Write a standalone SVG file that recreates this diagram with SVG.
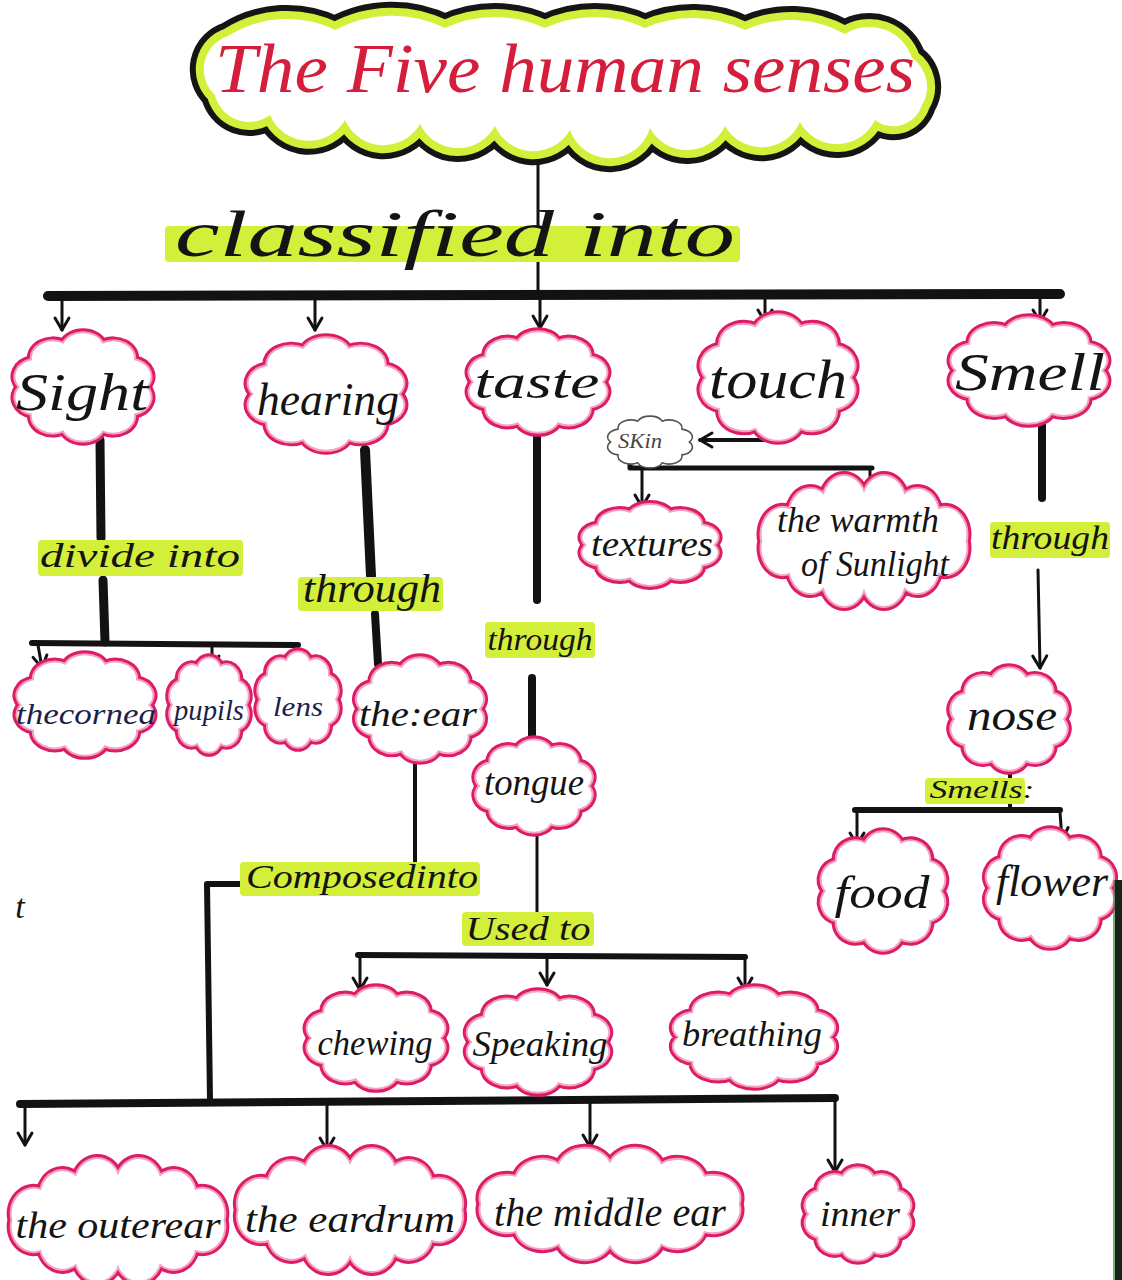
<svg xmlns="http://www.w3.org/2000/svg" xmlns:xlink="http://www.w3.org/1999/xlink" width="1122" height="1280" viewBox="0 0 1122 1280">
  <style>
    .txt { font-family: "Liberation Serif", "DejaVu Serif", serif; font-style: italic; fill: #141414; text-anchor: middle; }
    .navy { fill: #1c1f4a; }
    .hl { fill: #d4ef3a; }
    .bar { stroke: #121212; fill: none; stroke-linecap: round; stroke-linejoin: round; }
    .arrow { stroke: #121212; stroke-width: 3; fill: none; stroke-linecap: round; marker-end: url(#vhead); }
    .pink-out { fill: none; stroke: #de1c66; stroke-width: 10; }
    .pink-in { fill: none; stroke: #f3a2c2; stroke-width: 4; }
    .white-fill { fill: #ffffff; stroke: none; }
  </style>
  <defs>
    <!-- open V arrowhead, tip at the line end -->
    <marker id="vhead" viewBox="-14 -10 18 20" markerWidth="18" markerHeight="20" refX="0" refY="0" markerUnits="userSpaceOnUse" orient="auto" overflow="visible">
      <path d="M-12,-7 L0,0 L-12,7" fill="none" stroke="#121212" stroke-width="3" stroke-linecap="round" stroke-linejoin="round"/>
    </marker>
    <!-- scalloped cloud in a 100x100 box -->
    <path id="cloudShape" vector-effect="non-scaling-stroke" d="M37,9.9 A14,15.5 0 0 1 63,9.9 A14,15.5 0 0 1 84,25.2 A14,15.5 0 0 1 92,50 A14,15.5 0 0 1 84,74.8 A14,15.5 0 0 1 63,90.1 A14,15.5 0 0 1 37,90.1 A14,15.5 0 0 1 16,74.8 A14,15.5 0 0 1 8,50 A14,15.5 0 0 1 16,25.2 A14,15.5 0 0 1 37,9.9 Z"/>
    <!-- wider cloud in a 200x100 box -->
    <path id="cloudWideShape" vector-effect="non-scaling-stroke" d="M30,26 A20,20 0 0 1 62,15 A20,20 0 0 1 100,14 A20,20 0 0 1 138,15 A20,20 0 0 1 170,26 A20,20 0 0 1 196,50 A20,20 0 0 1 170,74 A20,20 0 0 1 138,85 A20,20 0 0 1 100,86 A20,20 0 0 1 62,85 A20,20 0 0 1 30,74 A20,20 0 0 1 4,50 A20,20 0 0 1 30,26 Z"/>
    <g id="pinkCloud">
      <use xlink:href="#cloudShape" class="pink-out"/>
      <use xlink:href="#cloudShape" class="pink-in"/>
      <use xlink:href="#cloudShape" class="white-fill"/>
    </g>
    <g id="pinkCloudWide">
      <use xlink:href="#cloudWideShape" class="pink-out"/>
      <use xlink:href="#cloudWideShape" class="pink-in"/>
      <use xlink:href="#cloudWideShape" class="white-fill"/>
    </g>
    <path id="titleShape" d="M228,36 A110,110 0 0 1 335,30 A120,120 0 0 1 445,28 A120,120 0 0 1 545,28 A120,120 0 0 1 645,28 A120,120 0 0 1 745,30 A110,110 0 0 1 845,34 A45,45 0 0 1 912,58 A35,35 0 0 1 922,105 A30,30 0 0 1 875,120 A42,42 0 0 1 800,122 A42,42 0 0 1 725,126 A42,42 0 0 1 650,128 A42,42 0 0 1 570,130 A42,42 0 0 1 495,126 A42,42 0 0 1 420,124 A42,42 0 0 1 345,120 A42,42 0 0 1 270,115 A35,35 0 0 1 215,95 A35,35 0 0 1 228,36 Z"/>
  </defs>

  <rect width="1122" height="1280" fill="#ffffff"/>

  <!-- connectors -->
  <g id="connectors">
    <!-- title to main bar -->
    <line class="bar" x1="538" y1="140" x2="538" y2="295" stroke-width="3"/>
    <line class="bar" x1="48" y1="296" x2="1060" y2="294" stroke-width="10"/>
    <line class="arrow" x1="62" y1="298" x2="62" y2="330"/>
    <line class="arrow" x1="315" y1="298" x2="315" y2="330"/>
    <line class="arrow" x1="540" y1="298" x2="540" y2="328"/>
    <line class="arrow" x1="765" y1="298" x2="765" y2="322"/>
    <line class="arrow" x1="1040" y1="298" x2="1040" y2="322"/>

    <!-- sight -->
    <line class="bar" x1="100" y1="440" x2="101" y2="538" stroke-width="9"/>
    <line class="bar" x1="103" y1="580" x2="105" y2="642" stroke-width="9"/>
    <line class="bar" x1="32" y1="643" x2="298" y2="645" stroke-width="6"/>
    <line class="arrow" x1="38" y1="645" x2="42" y2="668" stroke-width="4"/>
    <line class="arrow" x1="212" y1="646" x2="212" y2="668" stroke-width="4"/>
    <line class="arrow" x1="295" y1="646" x2="298" y2="668" stroke-width="4"/>

    <!-- hearing -->
    <line class="bar" x1="365" y1="450" x2="371" y2="576" stroke-width="10"/>
    <line class="bar" x1="375" y1="614" x2="378" y2="664" stroke-width="8"/>
    <line class="bar" x1="415" y1="758" x2="415" y2="864" stroke-width="4"/>
    <polyline class="bar" points="244,884 207,884 210,1100" stroke-width="6"/>
    <line class="bar" x1="20" y1="1104" x2="835" y2="1098" stroke-width="8"/>
    <line class="arrow" x1="25" y1="1104" x2="25" y2="1145"/>
    <line class="arrow" x1="327" y1="1101" x2="327" y2="1150"/>
    <line class="arrow" x1="590" y1="1099" x2="590" y2="1147"/>
    <line class="arrow" x1="835" y1="1099" x2="835" y2="1172"/>

    <!-- taste -->
    <line class="bar" x1="537" y1="430" x2="537" y2="600" stroke-width="8"/>
    <line class="bar" x1="532" y1="678" x2="532" y2="744" stroke-width="8"/>
    <line class="bar" x1="537" y1="830" x2="537" y2="916" stroke-width="3"/>
    <line class="bar" x1="358" y1="955" x2="745" y2="957" stroke-width="6"/>
    <line class="arrow" x1="360" y1="957" x2="360" y2="990"/>
    <line class="arrow" x1="547" y1="957" x2="547" y2="985"/>
    <line class="arrow" x1="745" y1="958" x2="745" y2="990"/>

    <!-- touch -->
    <polyline class="bar" points="768,420 768,440 700,440" stroke-width="4" marker-end="url(#vhead)"/>
    <polyline class="bar" points="630,462 630,468 872,468" stroke-width="5"/>
    <line class="arrow" x1="642" y1="470" x2="642" y2="507"/>
    <line class="arrow" x1="870" y1="470" x2="870" y2="496"/>

    <!-- smell -->
    <line class="bar" x1="1042" y1="420" x2="1042" y2="498" stroke-width="8"/>
    <line class="arrow" x1="1038" y1="570" x2="1040" y2="668"/>
    <line class="bar" x1="1010" y1="766" x2="1010" y2="808" stroke-width="4"/>
    <line class="bar" x1="855" y1="810" x2="1060" y2="810" stroke-width="6"/>
    <line class="arrow" x1="857" y1="812" x2="857" y2="845"/>
    <line class="arrow" x1="1060" y1="812" x2="1062" y2="840"/>
  </g>

  <!-- title -->
  <g id="title">
    <use xlink:href="#titleShape" fill="none" stroke="#151515" stroke-width="28"/>
    <use xlink:href="#titleShape" fill="none" stroke="#d4ef3a" stroke-width="16"/>
    <use xlink:href="#titleShape" fill="#ffffff"/>
    <text class="txt" x="565" y="92" font-size="70" textLength="700" lengthAdjust="spacingAndGlyphs" style="fill:#d41e3c">The Five human senses</text>
  </g>

  <!-- link labels -->
  <g id="label-classified">
    <rect class="hl" x="165" y="226" width="575" height="36" rx="4"/>
    <text class="txt" x="455" y="256" font-size="66" textLength="560" lengthAdjust="spacingAndGlyphs">classified into</text>
  </g>
  <g id="label-divide">
    <rect class="hl" x="38" y="540" width="205" height="36" rx="4"/>
    <text class="txt" x="140" y="567" font-size="34" textLength="200" lengthAdjust="spacingAndGlyphs">divide into</text>
  </g>
  <g id="label-through-hearing">
    <rect class="hl" x="298" y="577" width="145" height="34" rx="4"/>
    <text class="txt" x="372" y="602" font-size="40" textLength="138" lengthAdjust="spacingAndGlyphs">through</text>
  </g>
  <g id="label-through-taste">
    <rect class="hl" x="485" y="622" width="110" height="36" rx="4"/>
    <text class="txt" x="540" y="650" font-size="32" textLength="105" lengthAdjust="spacingAndGlyphs">through</text>
  </g>
  <g id="label-through-smell">
    <rect class="hl" x="990" y="522" width="120" height="36" rx="4"/>
    <text class="txt" x="1050" y="549" font-size="34" textLength="118" lengthAdjust="spacingAndGlyphs">through</text>
  </g>
  <g id="label-composed">
    <rect class="hl" x="240" y="862" width="240" height="34" rx="4"/>
    <text class="txt" x="362" y="888" font-size="34" textLength="232" lengthAdjust="spacingAndGlyphs">Composedinto</text>
  </g>
  <g id="label-used">
    <rect class="hl" x="462" y="912" width="132" height="34" rx="4"/>
    <text class="txt" x="528" y="940" font-size="34" textLength="125" lengthAdjust="spacingAndGlyphs">Used to</text>
  </g>
  <g id="label-smells">
    <rect class="hl" x="925" y="778" width="100" height="26" rx="4"/>
    <text class="txt" x="982" y="798" font-size="26" textLength="105" lengthAdjust="spacingAndGlyphs">Smells:</text>
  </g>

  <!-- senses -->
  <g id="sight">
    <use xlink:href="#pinkCloud" transform="translate(8,333) scale(1.5,1.08)"/>
    <text class="txt" x="82" y="410" font-size="52" textLength="132" lengthAdjust="spacingAndGlyphs">Sight</text>
  </g>
  <g id="hearing">
    <use xlink:href="#pinkCloud" transform="translate(240,338) scale(1.72,1.12)"/>
    <text class="txt" x="328" y="415" font-size="46" textLength="142" lengthAdjust="spacingAndGlyphs">hearing</text>
  </g>
  <g id="taste">
    <use xlink:href="#pinkCloud" transform="translate(462,332) scale(1.52,1.0)"/>
    <text class="txt" x="537" y="398" font-size="48" textLength="125" lengthAdjust="spacingAndGlyphs">taste</text>
  </g>
  <g id="touch">
    <use xlink:href="#pinkCloud" transform="translate(693,315) scale(1.7,1.25)"/>
    <text class="txt" x="778" y="398" font-size="54" textLength="138" lengthAdjust="spacingAndGlyphs">touch</text>
  </g>
  <g id="smell">
    <use xlink:href="#pinkCloud" transform="translate(943,318) scale(1.72,1.05)"/>
    <text class="txt" x="1030" y="390" font-size="52" textLength="150" lengthAdjust="spacingAndGlyphs">Smell</text>
  </g>

  <!-- touch branch -->
  <g id="skin">
    <use xlink:href="#cloudShape" transform="translate(603,416) scale(0.94,0.52)" fill="#ffffff" stroke="#555555" stroke-width="1.6"/>
    <text class="txt" x="640" y="448" font-size="20" textLength="44" lengthAdjust="spacingAndGlyphs" style="fill:#444">SKin</text>
  </g>
  <g id="textures">
    <use xlink:href="#pinkCloud" transform="translate(575,505) scale(1.5,0.8)"/>
    <text class="txt" x="652" y="556" font-size="36" textLength="122" lengthAdjust="spacingAndGlyphs">textures</text>
  </g>
  <g id="warmth">
    <use xlink:href="#pinkCloudWide" transform="translate(758,475) scale(1.06,1.32)"/>
    <text class="txt" x="858" y="532" font-size="36" textLength="162" lengthAdjust="spacingAndGlyphs">the warmth</text>
    <text class="txt" x="875" y="576" font-size="36" textLength="148" lengthAdjust="spacingAndGlyphs">of Sunlight</text>
  </g>

  <!-- sight branch -->
  <g id="cornea">
    <use xlink:href="#pinkCloud" transform="translate(10,655) scale(1.5,1.0)"/>
    <text class="txt navy" x="86" y="724" font-size="30" textLength="140" lengthAdjust="spacingAndGlyphs">thecornea</text>
  </g>
  <g id="pupils">
    <use xlink:href="#pinkCloud" transform="translate(166,658) scale(0.86,0.94)"/>
    <text class="txt navy" x="209" y="720" font-size="30" textLength="70" lengthAdjust="spacingAndGlyphs">pupils</text>
  </g>
  <g id="lens">
    <use xlink:href="#pinkCloud" transform="translate(254,652) scale(0.88,0.95)"/>
    <text class="txt navy" x="298" y="716" font-size="28" textLength="50" lengthAdjust="spacingAndGlyphs">lens</text>
  </g>

  <!-- hearing branch -->
  <g id="the-ear">
    <use xlink:href="#pinkCloud" transform="translate(350,658) scale(1.4,1.02)"/>
    <text class="txt" x="418" y="726" font-size="36" textLength="118" lengthAdjust="spacingAndGlyphs">the:ear</text>
  </g>
  <g id="outer-ear">
    <use xlink:href="#pinkCloudWide" transform="translate(8,1158) scale(1.1,1.24)"/>
    <text class="txt" x="118" y="1238" font-size="38" textLength="205" lengthAdjust="spacingAndGlyphs">the outerear</text>
  </g>
  <g id="eardrum">
    <use xlink:href="#pinkCloudWide" transform="translate(234,1148) scale(1.16,1.24)"/>
    <text class="txt" x="350" y="1232" font-size="38" textLength="210" lengthAdjust="spacingAndGlyphs">the eardrum</text>
  </g>
  <g id="middle-ear">
    <use xlink:href="#pinkCloudWide" transform="translate(476,1148) scale(1.34,1.12)"/>
    <text class="txt" x="610" y="1226" font-size="40" textLength="232" lengthAdjust="spacingAndGlyphs">the middle ear</text>
  </g>
  <g id="inner">
    <use xlink:href="#pinkCloud" transform="translate(800,1168) scale(1.16,0.92)"/>
    <text class="txt" x="860" y="1226" font-size="36" textLength="80" lengthAdjust="spacingAndGlyphs">inner</text>
  </g>

  <!-- taste branch -->
  <g id="tongue">
    <use xlink:href="#pinkCloud" transform="translate(470,740) scale(1.28,0.92)"/>
    <text class="txt" x="534" y="795" font-size="38" textLength="100" lengthAdjust="spacingAndGlyphs">tongue</text>
  </g>
  <g id="chewing">
    <use xlink:href="#pinkCloud" transform="translate(300,988) scale(1.52,1.0)"/>
    <text class="txt" x="375" y="1055" font-size="36" textLength="115" lengthAdjust="spacingAndGlyphs">chewing</text>
  </g>
  <g id="speaking">
    <use xlink:href="#pinkCloud" transform="translate(460,992) scale(1.56,1.0)"/>
    <text class="txt" x="540" y="1056" font-size="36" textLength="135" lengthAdjust="spacingAndGlyphs">Speaking</text>
  </g>
  <g id="breathing">
    <use xlink:href="#pinkCloud" transform="translate(665,988) scale(1.78,0.98)"/>
    <text class="txt" x="752" y="1046" font-size="36" textLength="140" lengthAdjust="spacingAndGlyphs">breathing</text>
  </g>

  <!-- smell branch -->
  <g id="nose">
    <use xlink:href="#pinkCloud" transform="translate(945,668) scale(1.28,1.02)"/>
    <text class="txt" x="1012" y="730" font-size="44" textLength="90" lengthAdjust="spacingAndGlyphs">nose</text>
  </g>
  <g id="food">
    <use xlink:href="#pinkCloud" transform="translate(815,832) scale(1.36,1.18)"/>
    <text class="txt" x="882" y="908" font-size="46" textLength="95" lengthAdjust="spacingAndGlyphs">food</text>
  </g>
  <g id="flower">
    <use xlink:href="#pinkCloud" transform="translate(980,830) scale(1.4,1.16)"/>
    <text class="txt" x="1052" y="896" font-size="44" textLength="112" lengthAdjust="spacingAndGlyphs">flower</text>
  </g>

  <!-- stray pen mark on the left margin -->
  <text class="txt" x="20" y="918" font-size="34">t</text>

  <!-- dark paper edge on the right -->
  <rect x="1115" y="880" width="7" height="400" fill="#16221a"/>
  <rect x="1113" y="880" width="2" height="400" fill="#3f8f45" opacity="0.7"/>
</svg>
